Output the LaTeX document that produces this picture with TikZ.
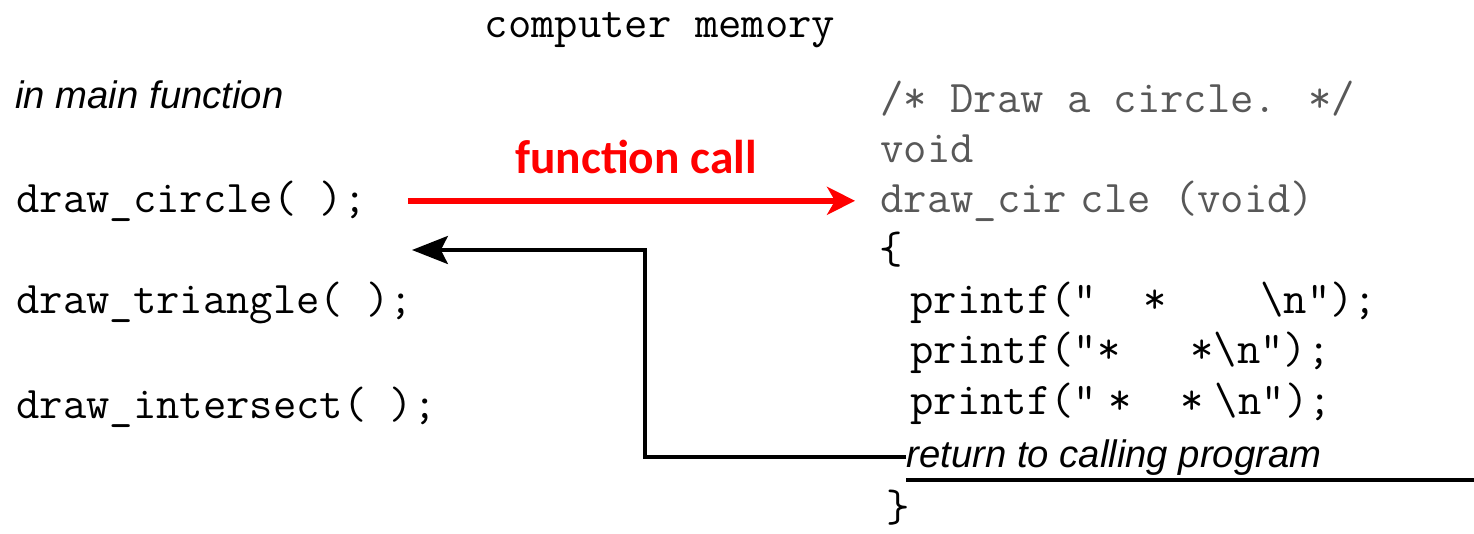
\documentclass[tikz,border=0pt]{standalone}
\usepackage{fontspec}
\setmainfont{Liberation Sans}
\setsansfont{Liberation Sans}
\newfontfamily\callfont{Carlito}
\usetikzlibrary{arrows.meta}
\definecolor{callred}{RGB}{255,0,0}
\definecolor{codegray}{RGB}{88,88,88}
\newcommand{\codesize}{\fontsize{25.8}{30}\selectfont}
\newcommand{\notesize}{\fontsize{21.8}{26}\selectfont}
\tikzset{code/.style = {anchor=base west, inner sep=0pt, font=\ttfamily\codesize}}
\tikzset{defcode/.style = {code, text=codegray}}
\tikzset{note/.style = {anchor=base west, inner sep=0pt, font=\sffamily\itshape\notesize}}
\tikzset{calllabel/.style = {anchor=base, inner sep=0pt, text=callred, font=\callfont\bfseries\fontsize{27}{30}\selectfont}}
\tikzset{callarrow/.style = {-{Stealth[length=15.9pt,width=15.9pt,inset=4.5pt]}, draw=callred, line width=3.4pt}}
\tikzset{backarrow/.style = {-{Stealth[length=20.4pt,width=15.9pt,inset=4pt]}, line width=2.2pt}}
\tikzset{underline/.style = {line width=2.6pt}}

\begin{document}
\begin{tikzpicture}[x=0.02cm, y=-0.02cm]
                \useasboundingbox (0,0) rectangle (1474,534);
                \node[code, anchor=base] (memory) at (660,37) {computer memory};
                % main function side
                \node[note] (mainlabel) at (15,108) {in main function};
                \node[code] (circcall) at (16,212) {draw\_circle(~);};
                \node[code] (tricall) at (16,313) {draw\_triangle(~);};
                \node[code] (intcall) at (16,418) {draw\_intersect(~);};
                % function definition side
                \node[defcode] (comment) at (880,112) {/* Draw a circle. */};
                \node[defcode] (rettype) at (880,162) {void};
                \node[defcode] (fname) at (880,212) {draw\_cir\hspace{0.3em}cle (void)};
                \node[code] (lbrace) at (879,263) {\{};
                \node[code] (line1) at (910,313) {printf("~~*~~~~\textbackslash n");};
                \node[code] (line2) at (910,363) {printf("*~~~*\textbackslash n");};
                \node[code] (line3) at (910,414) {printf("\hspace{0.25em}*\hspace{1.07em}*\hspace{0.25em}\textbackslash n");};
                \node[note] (ret) at (906,467) {return to calling program};
                \node[code] (rbrace) at (886,521) {\}};
                \draw[underline] (ret.base west) ++(0,13) -- (1474,480);
                % call and return
                \node[calllabel] (calltext) at (636,173) {function call};
                \draw[callarrow, shorten <=0.82cm, shorten >=0.5cm] (circcall.east) -- (circcall.east -| fname.west);
                \coordinate (bend) at (645,250);
                \coordinate (backtip) at (412,250);
                \draw[backarrow] (ret.west) -| (bend) -- (backtip);
            \end{tikzpicture}
\end{document}
